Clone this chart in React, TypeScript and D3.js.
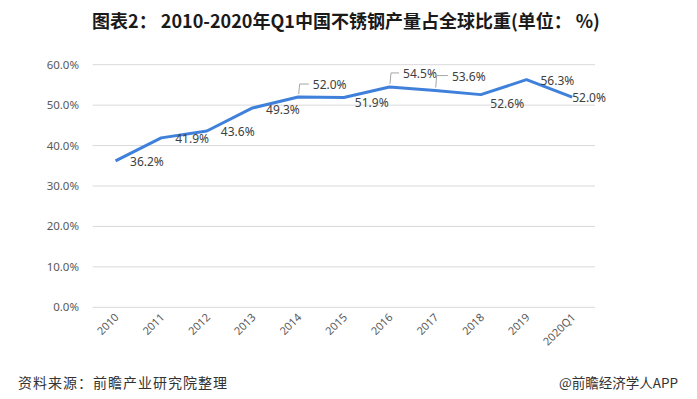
import React from "react";
import * as d3 from "d3";

const categories = ["2010", "2011", "2012", "2013", "2014", "2015", "2016", "2017", "2018", "2019", "2020Q1"];
const shareValues = [36.2, 41.9, 43.6, 49.3, 52.0, 51.9, 54.5, 53.6, 52.6, 56.3, 52.0];
const yTicks = [0, 10, 20, 30, 40, 50, 60];

const titleText = "图表2： 2010-2020年Q1中国不锈钢产量占全球比重(单位： %)";
const sourceText = "资料来源：前瞻产业研究院整理";
const brandText = "@前瞻经济学人APP";

// layout: label offsets (dx to left edge, dy to vertical centre) and leader flags
const labelDx = [14.5, 14, 14, 13.5, 14.6, 11, 13.6, 16.7, 9.5, 14, 0];
const labelDy = [1, 1, 0.5, 2, -12, 5, -13, -14, 9, 1, 1];
const hasLeader = [false, false, false, false, true, false, true, true, false, false, false];

const W = 697;
const H = 399;
const left = 92.7;
const right = 595;
const top = 64.7;
const bottom = 307.3;

export default function App() {
  const x = d3.scaleBand<string>().domain(categories).range([left, right]);
  const y = d3.scaleLinear().domain([0, 60]).range([bottom, top]);
  const cx = (c: string) => (x(c) as number) + x.bandwidth() / 2;
  const line = d3
    .line<number>()
    .x((_, i) => cx(categories[i]))
    .y((v) => y(v));

  const fmt = (v: number) => v.toFixed(1) + "%";

  return (
    <svg
      width={W}
      height={H}
      style={{ position: "absolute", left: 0, top: 0, background: "#fff" }}
      fontFamily="'Noto Sans', 'Noto Sans CJK SC', sans-serif"
    >
      <rect x={0} y={0} width={W} height={H} fill="#fff" />
      <text
        x={346}
        y={28}
        textAnchor="middle"
        fontSize={18}
        fontWeight="bold"
        fill="#1a1a1a"
        fontFamily="'Noto Sans CJK SC', sans-serif"
      >
        {titleText}
      </text>

      {yTicks.map((t) => (
        <g key={t}>
          <line x1={left} x2={right} y1={y(t)} y2={y(t)} stroke="#d9d9d9" strokeWidth={1} />
          <text x={79} y={y(t)} dy="0.35em" textAnchor="end" fontSize={11.5} fill="#595959">
            {t.toFixed(1) + "%"}
          </text>
        </g>
      ))}

      {categories.map((c) => (
        <text
          key={c}
          transform={`translate(${cx(c) + 4},${318}) rotate(-45)`}
          textAnchor="end"
          fontSize={11}
          fill="#595959"
        >
          {c}
        </text>
      ))}

      <path d={line(shareValues) || ""} fill="none" stroke="#3f80da" strokeWidth={3} strokeLinejoin="round" />

      {shareValues.map((v, i) => {
        const px = cx(categories[i]);
        const py = y(v);
        const lx = px + labelDx[i];
        const ly = py + labelDy[i];
        return (
          <g key={i}>
            {hasLeader[i] && (
              <polyline
                points={`${px + 0.5},${py - 3} ${px + 1.5},${ly - 1} ${lx - 4},${ly - 1}`}
                fill="none"
                stroke="#a6a6a6"
                strokeWidth={1}
              />
            )}
            <text x={lx} y={ly} dy="0.35em" fontSize={12} fill="#404040">
              {fmt(v)}
            </text>
          </g>
        );
      })}

      <text x={18} y={388} fontSize={14} fill="#333" letterSpacing={1} fontFamily="'Noto Sans CJK SC', sans-serif">
        {sourceText}
      </text>
      <text x={678} y={388} textAnchor="end" fontSize={13.5} fill="#333" fontFamily="'Noto Sans CJK SC', sans-serif">
        {brandText}
      </text>
    </svg>
  );
}
